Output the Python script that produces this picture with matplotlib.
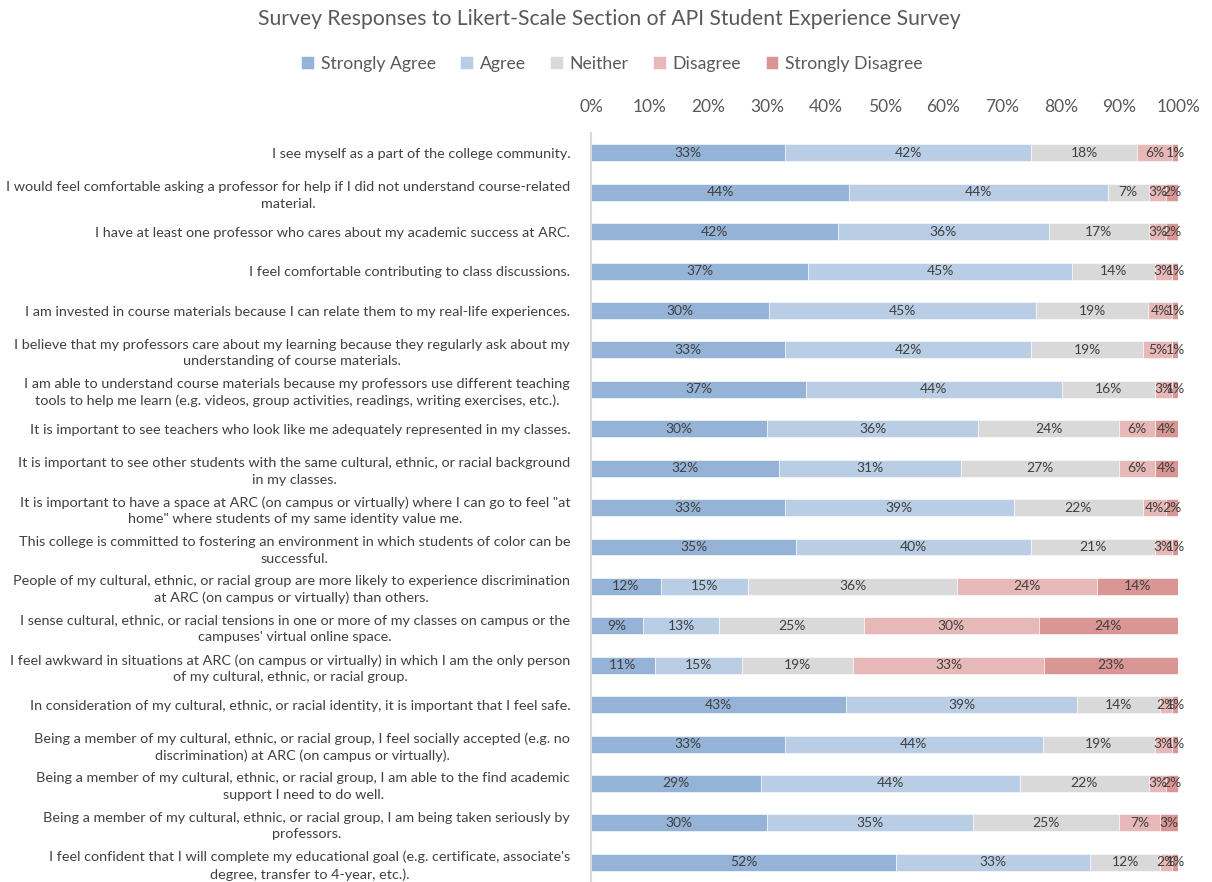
import numpy as np
import matplotlib.pyplot as plt

plt.rcParams['font.family'] = ['Lato', 'DejaVu Sans']

questions = [
    "I see myself as a part of the college community.",
    "I would feel comfortable asking a professor for help if I did not understand course-related\nmaterial.",
    "I have at least one professor who cares about my academic success at ARC.",
    "I feel comfortable contributing to class discussions.",
    "I am invested in course materials because I can relate them to my real-life experiences.",
    "I believe that my professors care about my learning because they regularly ask about my\nunderstanding of course materials.",
    "I am able to understand course materials because my professors use different teaching\ntools to help me learn (e.g. videos, group activities, readings, writing exercises, etc.).",
    "It is important to see teachers who look like me adequately represented in my classes.",
    "It is important to see other students with the same cultural, ethnic, or racial background\nin my classes.",
    "It is important to have a space at ARC (on campus or virtually) where I can go to feel \"at\nhome\" where students of my same identity value me.",
    "This college is committed to fostering an environment in which students of color can be\nsuccessful.",
    "People of my cultural, ethnic, or racial group are more likely to experience discrimination\nat ARC (on campus or virtually) than others.",
    "I sense cultural, ethnic, or racial tensions in one or more of my classes on campus or the\ncampuses' virtual online space.",
    "I feel awkward in situations at ARC (on campus or virtually) in which I am the only person\nof my cultural, ethnic, or racial group.",
    "In consideration of my cultural, ethnic, or racial identity, it is important that I feel safe.",
    "Being a member of my cultural, ethnic, or racial group, I feel socially accepted (e.g. no\ndiscrimination) at ARC (on campus or virtually).",
    "Being a member of my cultural, ethnic, or racial group, I am able to the find academic\nsupport I need to do well.",
    "Being a member of my cultural, ethnic, or racial group, I am being taken seriously by\nprofessors.",
    "I feel confident that I will complete my educational goal (e.g. certificate, associate's\ndegree, transfer to 4-year, etc.).",
]

responses = ["Strongly Agree", "Agree", "Neither", "Disagree", "Strongly Disagree"]

strongly_agree = [33, 44, 42, 37, 30, 33, 37, 30, 32, 33, 35, 12, 9, 11, 43, 33, 29, 30, 52]
agree = [42, 44, 36, 45, 45, 42, 44, 36, 31, 39, 40, 15, 13, 15, 39, 44, 44, 35, 33]
neither = [18, 7, 17, 14, 19, 19, 16, 24, 27, 22, 21, 36, 25, 19, 14, 19, 22, 25, 12]
disagree = [6, 3, 3, 3, 4, 5, 3, 6, 6, 4, 3, 24, 30, 33, 2, 3, 3, 7, 2]
strongly_disagree = [1, 2, 2, 1, 1, 1, 1, 4, 4, 2, 1, 14, 24, 23, 1, 1, 2, 3, 1]

colors = ['#95B3D7', '#B9CDE5', '#D9D9D9', '#E6B9B8', '#D99694']

data = np.array([strongly_agree, agree, neither, disagree, strongly_disagree], dtype=float)
# grafico 100% empilhado: normaliza cada linha
shares = data / data.sum(axis=0) * 100

fig = plt.figure(figsize=(12.12, 8.82), dpi=100)
ax = fig.add_axes([0.4876, 0.0, 0.4844, 0.849])

y = np.arange(len(questions))
left = np.zeros(len(questions))
for i, resp in enumerate(responses):
    bars = ax.barh(y, shares[i], left=left, height=0.43, color=colors[i],
                   edgecolor='white', linewidth=0.4, label=resp)
    for j, bar in enumerate(bars):
        ax.text(bar.get_x() + bar.get_width() / 2, bar.get_y() + bar.get_height() / 2,
                f"{int(data[i, j])}%", ha='center', va='center', fontsize=10, color='#404040')
    left += shares[i]

ax.set_ylim(len(questions) - 0.5, -0.5)
ax.set_xlim(0, 100)
ax.set_yticks(y)
ax.set_yticklabels(questions, fontsize=10.4, color='#404040', multialignment='center',
                   linespacing=1.45)
ax.tick_params(axis='y', length=0, pad=15)

ax.xaxis.tick_top()
ax.set_xticks(np.arange(0, 101, 10))
ax.set_xticklabels([f"{v}%" for v in range(0, 101, 10)], fontsize=12.5, color='#595959')
ax.tick_params(axis='x', length=0, pad=13)

for s in ['top', 'right', 'bottom']:
    ax.spines[s].set_visible(False)
ax.spines['left'].set_color('#D9D9D9')
ax.spines['left'].set_linewidth(1.5)

fig.text(0.503, 0.979, "Survey Responses to Likert-Scale Section of API Student Experience Survey",
         ha='center', va='center', fontsize=15.2, color='#595959')
fig.legend(loc='center', bbox_to_anchor=(0.505, 0.928), ncol=5, frameon=False,
           fontsize=12.7, handlelength=0.7, handleheight=0.7, handletextpad=0.4,
           columnspacing=1.4, labelcolor='#595959')

fig.savefig('out.png', dpi=100)
